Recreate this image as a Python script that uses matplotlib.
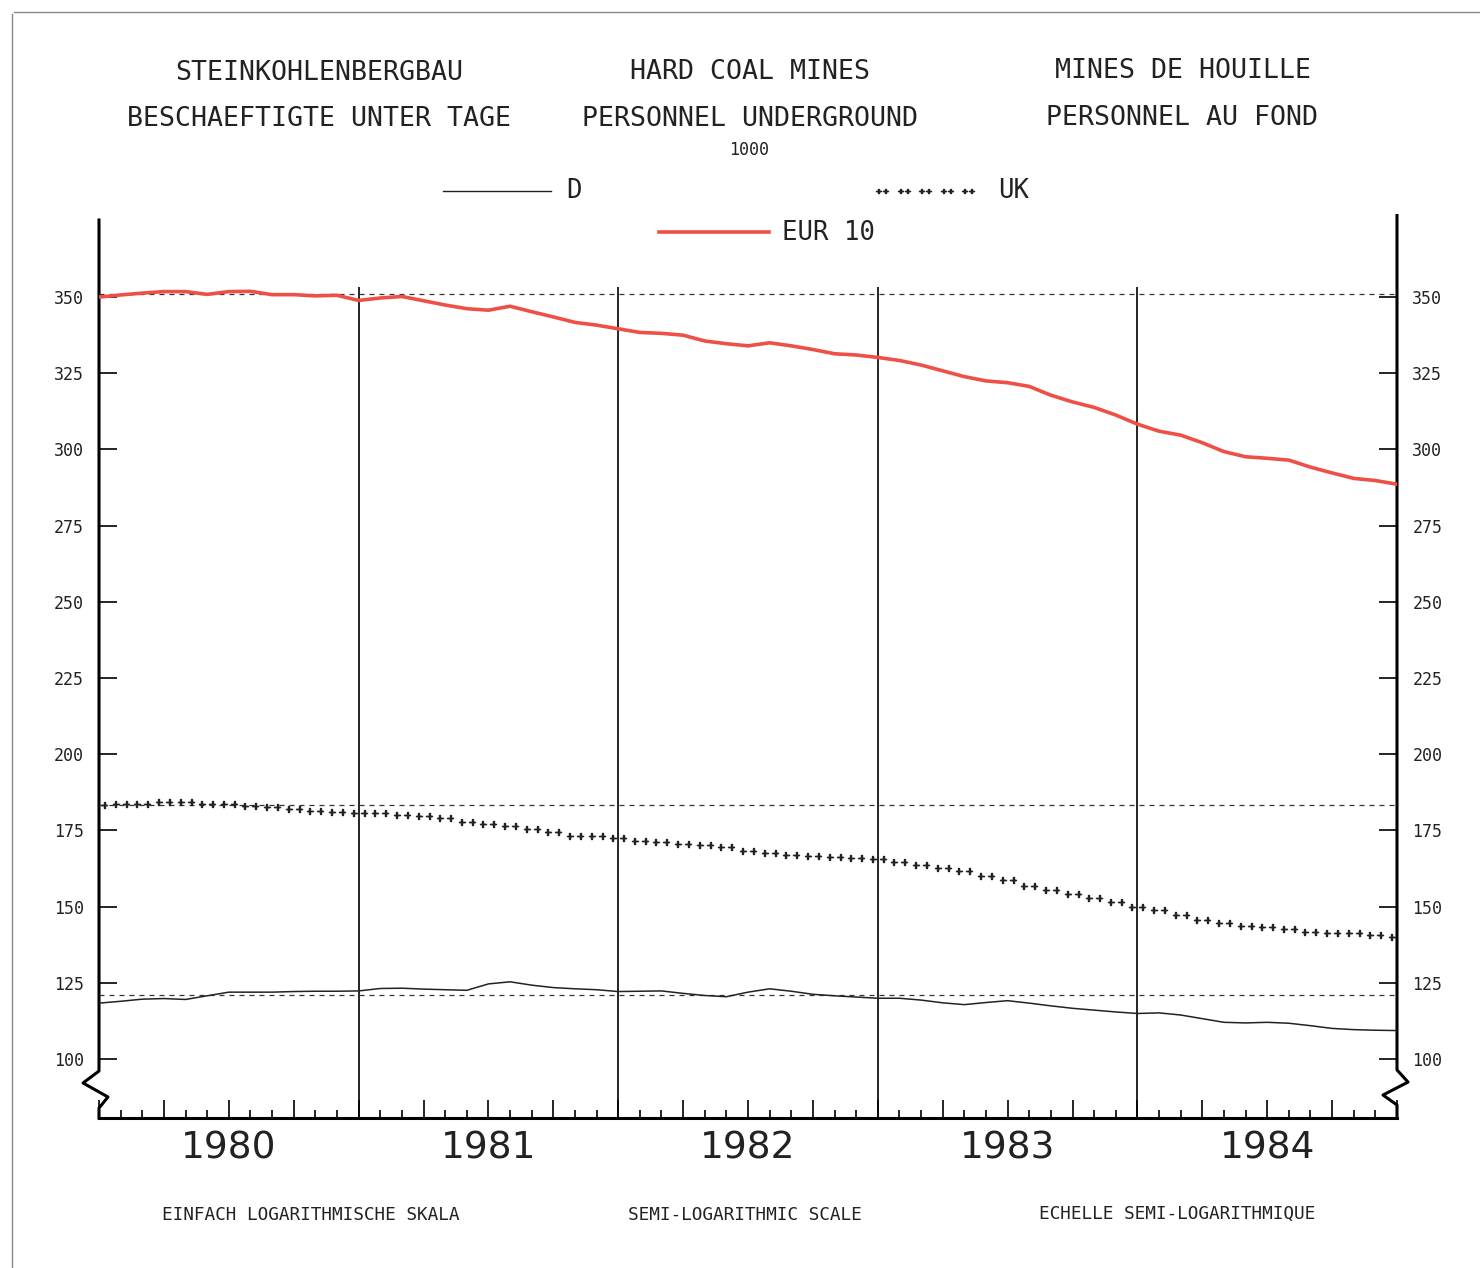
import numpy as np
import matplotlib
matplotlib.use("Agg")
import matplotlib.pyplot as plt
from matplotlib.lines import Line2D

plt.rcParams['font.family'] = ['DejaVu Sans Mono', 'DejaVu Sans']

# monthly values, Jan 1980 .. Jan 1985 (1000 persons)
months = np.arange(61)
years = ['1980', '1981', '1982', '1983', '1984']

eur10 = [350.0, 350.7, 351.3, 351.8, 351.8, 350.9, 351.8, 351.9, 350.8, 350.8,
         350.4, 350.6, 348.9, 349.7, 350.2, 348.8, 347.4, 346.2, 345.7, 347.0,
         345.2, 343.5, 341.7, 340.8, 339.6, 338.4, 338.1, 337.5, 335.6, 334.7,
         334.0, 335.0, 334.0, 332.8, 331.4, 331.0, 330.2, 329.2, 327.7, 325.8,
         323.9, 322.5, 321.9, 320.7, 317.8, 315.6, 313.8, 311.3, 308.3, 306.0,
         304.7, 302.2, 299.3, 297.6, 297.1, 296.5, 294.2, 292.3, 290.5, 289.8,
         288.6]

uk = [183.3, 183.5, 183.5, 184.4, 184.4, 183.7, 183.5, 183.0, 182.6, 181.9,
      181.4, 180.9, 180.6, 180.6, 179.9, 179.7, 178.9, 177.9, 177.1, 176.3,
      175.4, 174.4, 173.3, 173.2, 172.4, 171.5, 171.1, 170.5, 170.2, 169.4,
      168.3, 167.5, 166.9, 166.7, 166.2, 165.9, 165.5, 164.6, 163.6, 162.5,
      161.6, 160.0, 158.7, 156.8, 155.4, 154.1, 152.7, 151.5, 149.9, 148.8,
      147.2, 145.6, 144.7, 143.6, 143.4, 142.5, 141.6, 141.4, 141.4, 140.7,
      140.1]

d = [118.3, 118.9, 119.6, 119.8, 119.5, 120.7, 121.9, 121.9, 121.9, 122.1,
     122.2, 122.2, 122.3, 123.1, 123.2, 122.9, 122.7, 122.5, 124.6, 125.3,
     124.2, 123.4, 123.0, 122.7, 122.1, 122.2, 122.3, 121.5, 120.8, 120.4,
     121.9, 123.0, 122.2, 121.2, 120.7, 120.3, 119.9, 119.9, 119.3, 118.4,
     117.8, 118.5, 119.1, 118.3, 117.4, 116.6, 116.0, 115.4, 114.9, 115.1,
     114.4, 113.2, 112.0, 111.8, 112.0, 111.7, 110.9, 110.0, 109.6, 109.4,
     109.3]

# reference levels (dashed)
refs = [351.0, 183.3, 121.0]

RED = '#ef5046'
INK = '#222222'
UKMARK = r'$++$'

W, H = 1480, 1268
fig = plt.figure(figsize=(W / 100, H / 100), dpi=100)
fig.patch.set_facecolor('white')
ax = fig.add_axes([99 / W, 1 - 1118 / H, (1397 - 99) / W, (1118 - 220) / H])
ax.set_xlim(0, 60)
ax.set_ylim(80.6, 375.3)

for s in ['top', 'left', 'right']:
    ax.spines[s].set_visible(False)
ax.spines['bottom'].set_linewidth(2.2)

# axis lines with break marks
ax.plot([0, 0, -0.0123, 0.0069, 0, 0], [1, 0.0523, 0.039, 0.0234, 0.0111, 0],
        transform=ax.transAxes, color='black', lw=2.2, clip_on=False)
ax.plot([1, 1, 1.0085, 0.9892, 1, 1], [1.005, 0.0535, 0.040, 0.0256, 0.0145, 0],
        transform=ax.transAxes, color='black', lw=2.2, clip_on=False)

# y ticks both sides
ax.set_yticks(range(100, 351, 25))
ax.tick_params(axis='y', direction='in', length=13, width=1.2, left=True,
               right=True, labelleft=True, labelright=True, pad=11,
               labelsize=12, labelcolor=INK)

# x ticks: quarters major, months minor
quarters = list(range(0, 61, 3))
qlabels = []
for q in quarters:
    if q % 12 == 6:
        qlabels.append(years[q // 12])
    else:
        qlabels.append('')
ax.set_xticks(quarters, labels=qlabels)
ax.set_xticks(months, minor=True)
ax.tick_params(axis='x', which='major', direction='in', length=13, width=1.2,
               pad=9, labelcolor=INK)
ax.tick_params(axis='x', which='minor', direction='in', length=6, width=1.2)
for lab in ax.get_xticklabels():
    lab.set_fontfamily('DejaVu Sans')
    lab.set_fontsize(27)

# year separators
ax.vlines([12, 24, 36, 48], 80.6, 353.3, color='black', lw=1.2)

# reference lines
for r in refs:
    ax.axhline(r, color='#333333', lw=0.9, ls=(0, (4, 4)))

ax.plot(months, d, color=INK, lw=1.1)
ax.plot(months, uk, ls='none', marker=UKMARK, ms=12, color=INK)
ax.plot(months, eur10, color=RED, lw=2.6)

# titles
def ftext(x, y, s, size, **kw):
    fig.text(x / W, 1 - y / H, s, ha=kw.pop('ha', 'center'), va='center',
             fontsize=size, color=INK, **kw)

ftext(319, 73, 'STEINKOHLENBERGBAU', 19.2)
ftext(319, 119, 'BESCHAEFTIGTE UNTER TAGE', 19.2)
ftext(750, 72, 'HARD COAL MINES', 19.2)
ftext(750, 119, 'PERSONNEL UNDERGROUND', 19.2)
ftext(1183, 71, 'MINES DE HOUILLE', 19.2)
ftext(1182, 118, 'PERSONNEL AU FOND', 19.2)
ftext(749, 150, '1000', 12)

# legend
fig.add_artist(Line2D([443 / W, 551 / W], [1 - 191 / H] * 2, color=INK, lw=1))
ftext(566, 191, 'D', 18.5, ha='left')
uk_x = np.linspace(882, 968, 5) / W
fig.add_artist(Line2D(uk_x, [1 - 191 / H] * 5, ls='none', marker=UKMARK, ms=8,
                      color=INK))
ftext(998, 191, 'UK', 18.5, ha='left')
fig.add_artist(Line2D([659 / W, 769 / W], [1 - 232 / H] * 2, color=RED, lw=2.6))
ftext(782, 233, 'EUR 10', 18.5, ha='left')

# footer
ftext(311, 1215, 'EINFACH LOGARITHMISCHE SKALA', 12.8)
ftext(745, 1215, 'SEMI-LOGARITHMIC SCALE', 12.8)
ftext(1177, 1214, 'ECHELLE SEMI-LOGARITHMIQUE', 12.8)

# page frame
fig.add_artist(Line2D([14 / W, 1], [1 - 12 / H] * 2, color='#888888', lw=1))
fig.add_artist(Line2D([12 / W] * 2, [1 - 14 / H, 0], color='#888888', lw=1))

fig.savefig('out.png', dpi=100, facecolor='white')
